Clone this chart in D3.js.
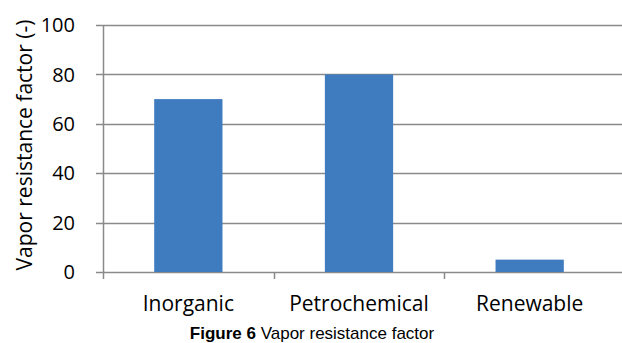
<!DOCTYPE html>
<html><head><meta charset="utf-8">
<script src="https://cdn.jsdelivr.net/npm/d3@7"></script>
<style>body{margin:0;background:#fff}svg{display:block}</style>
</head><body>
<svg id="c" width="622" height="343"></svg>
<script>
const categories = ["Inorganic", "Petrochemical", "Renewable"];
const values = [70, 80, 5];
const yTicks = [0, 20, 40, 60, 80, 100];
const yTitle = "Vapor resistance factor (-)";
const captionBold = "Figure 6";
const captionText = " Vapor resistance factor";

(function () {
const svg = d3.select("#c");
const pLeft = 103, pRight = 615, pTop = 25, pBottom = 272, gridRight = 622;
const x = d3.scaleBand().domain(categories).range([pLeft, pRight]);
const y = d3.scaleLinear().domain([0, 100]).range([pBottom, pTop]);
const font = "'Open Sans', 'Liberation Sans', sans-serif";
const gridColor = "#8a8a8a";

svg.append("g").selectAll("line").data(yTicks).join("line")
  .attr("x1", pLeft - 7).attr("x2", gridRight)
  .attr("y1", d => Math.round(y(d)) + 0.5).attr("y2", d => Math.round(y(d)) + 0.5)
  .attr("stroke", gridColor).attr("stroke-width", 1.5);

svg.append("line").attr("x1", pLeft + 0.5).attr("x2", pLeft + 0.5)
  .attr("y1", y(100)).attr("y2", y(0))
  .attr("stroke", gridColor).attr("stroke-width", 1.5);

const xb = [pLeft, pLeft + x.step(), pLeft + 2 * x.step()];
svg.append("g").selectAll("line").data(xb).join("line")
  .attr("x1", d => Math.round(d) + 0.5).attr("x2", d => Math.round(d) + 0.5)
  .attr("y1", y(0)).attr("y2", y(0) + 7)
  .attr("stroke", gridColor).attr("stroke-width", 1.5);

const bw = x.bandwidth() * 0.4;
svg.append("g").selectAll("rect").data(values).join("rect")
  .attr("x", (d, i) => x(categories[i]) + (x.bandwidth() - bw) / 2)
  .attr("width", bw)
  .attr("y", d => y(d)).attr("height", d => y(0) - y(d))
  .attr("fill", "#3f7bbf");

svg.append("g").selectAll("text").data(yTicks).join("text")
  .attr("x", 75).attr("y", d => y(d)).attr("dy", "0.36em")
  .attr("text-anchor", "end").attr("font-family", font).attr("font-size", 20)
  .attr("fill", "#000").text(d => d);

svg.append("g").selectAll("text").data(categories).join("text")
  .attr("x", d => x(d) + x.bandwidth() / 2).attr("y", 311)
  .attr("text-anchor", "middle").attr("font-family", font).attr("font-size", 21)
  .attr("fill", "#000").text(d => d);

svg.append("text").attr("transform", "translate(32,145) rotate(-90)")
  .attr("text-anchor", "middle").attr("font-family", font).attr("font-size", 21)
  .attr("fill", "#000").text(yTitle);

const cap = svg.append("text").attr("x", 312).attr("y", 339).attr("text-anchor", "middle")
  .attr("font-family", "'Liberation Sans Narrow', 'Arial Narrow', 'Liberation Sans', sans-serif")
  .attr("font-size", 17).attr("fill", "#000");
cap.append("tspan").attr("font-weight", "bold").text(captionBold);
cap.append("tspan").text(captionText);
})();
</script>
</body></html>
